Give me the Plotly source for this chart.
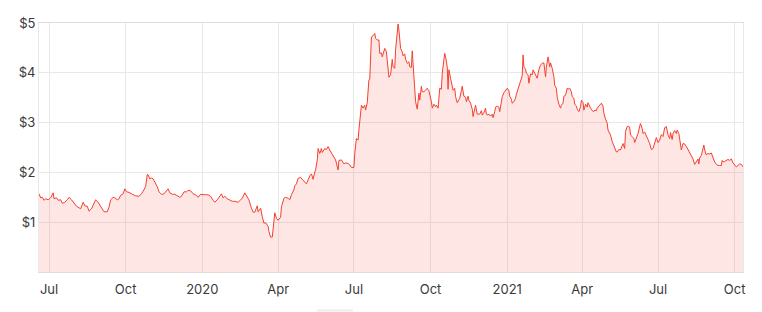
import plotly.graph_objects as go

dates = [
    "2019-06-19","2019-06-21","2019-06-23","2019-06-25","2019-06-27","2019-06-30","2019-07-03","2019-07-06","2019-07-07","2019-07-10",
    "2019-07-12","2019-07-15","2019-07-17","2019-07-20","2019-07-23","2019-07-25","2019-07-28","2019-07-31","2019-08-03","2019-08-06",
    "2019-08-08","2019-08-11","2019-08-13","2019-08-16","2019-08-18","2019-08-21","2019-08-24","2019-08-26","2019-08-29","2019-09-01",
    "2019-09-03","2019-09-05","2019-09-09","2019-09-11","2019-09-13","2019-09-16","2019-09-18","2019-09-21","2019-09-23","2019-09-25",
    "2019-09-28","2019-09-30","2019-10-02","2019-10-05","2019-10-09","2019-10-13",
    "2019-10-17","2019-10-20","2019-10-23","2019-10-25","2019-10-27","2019-10-28","2019-10-30","2019-11-01","2019-11-03","2019-11-05",
    "2019-11-08","2019-11-10","2019-11-13","2019-11-16","2019-11-18","2019-11-21","2019-11-23","2019-11-26","2019-11-29","2019-12-02",
    "2019-12-05","2019-12-07","2019-12-10","2019-12-13","2019-12-15","2019-12-18","2019-12-21","2019-12-24","2019-12-27","2019-12-30",
    "2020-01-02","2020-01-05","2020-01-08","2020-01-11","2020-01-14","2020-01-16","2020-01-19","2020-01-21","2020-01-24","2020-01-26",
    "2020-01-28","2020-01-31","2020-02-03","2020-02-06","2020-02-09","2020-02-13",
    "2020-02-16","2020-02-18","2020-02-21","2020-02-24","2020-02-26","2020-02-29","2020-03-02","2020-03-04","2020-03-07","2020-03-08",
    "2020-03-11","2020-03-13","2020-03-15","2020-03-17","2020-03-20","2020-03-21","2020-03-23","2020-03-25","2020-03-28","2020-03-30",
    "2020-04-01","2020-04-04","2020-04-05","2020-04-08","2020-04-10","2020-04-13","2020-04-15","2020-04-17","2020-04-20","2020-04-21",
    "2020-04-23","2020-04-25","2020-04-28","2020-04-30","2020-05-03","2020-05-05","2020-05-07","2020-05-09","2020-05-11","2020-05-13",
    "2020-05-15","2020-05-16","2020-05-18","2020-05-19","2020-05-21","2020-05-23","2020-05-24","2020-05-27","2020-05-29","2020-05-31",
    "2020-06-02","2020-06-04","2020-06-07","2020-06-09","2020-06-12","2020-06-13",
    "2020-06-16","2020-06-19","2020-06-21","2020-06-24","2020-06-26","2020-06-28","2020-07-01","2020-07-02","2020-07-04","2020-07-06",
    "2020-07-07","2020-07-09","2020-07-10","2020-07-12","2020-07-14","2020-07-15","2020-07-17","2020-07-19","2020-07-20","2020-07-22",
    "2020-07-23","2020-07-25","2020-07-26","2020-07-27","2020-07-29","2020-07-31","2020-08-01","2020-08-03","2020-08-04","2020-08-06",
    "2020-08-07","2020-08-09","2020-08-11","2020-08-12","2020-08-14","2020-08-16","2020-08-17","2020-08-19","2020-08-20","2020-08-22",
    "2020-08-23","2020-08-24","2020-08-26","2020-08-28","2020-08-29","2020-08-31","2020-09-01","2020-09-03","2020-09-05","2020-09-06",
    "2020-09-08","2020-09-09","2020-09-10","2020-09-12","2020-09-13","2020-09-15","2020-09-17","2020-09-18","2020-09-20","2020-09-21",
    "2020-09-23","2020-09-25","2020-09-27","2020-09-29","2020-09-30","2020-10-02","2020-10-03","2020-10-05","2020-10-07","2020-10-08",
    "2020-10-10",
    "2020-10-12","2020-10-14","2020-10-15","2020-10-17","2020-10-18","2020-10-19","2020-10-21","2020-10-22","2020-10-23","2020-10-25",
    "2020-10-27","2020-10-28","2020-10-30","2020-10-31","2020-11-02","2020-11-04","2020-11-05","2020-11-07","2020-11-08","2020-11-10",
    "2020-11-12","2020-11-13","2020-11-15","2020-11-16","2020-11-18","2020-11-20","2020-11-21","2020-11-23","2020-11-24","2020-11-26",
    "2020-11-28","2020-11-29","2020-12-01","2020-12-02","2020-12-04","2020-12-06","2020-12-07","2020-12-09","2020-12-10","2020-12-12",
    "2020-12-14","2020-12-15","2020-12-17","2020-12-18","2020-12-20","2020-12-22","2020-12-23","2020-12-25","2020-12-26","2020-12-28",
    "2020-12-30","2021-01-01","2021-01-03","2021-01-04","2021-01-06","2021-01-07","2021-01-09","2021-01-11","2021-01-12","2021-01-14",
    "2021-01-15","2021-01-17","2021-01-19","2021-01-20","2021-01-21","2021-01-23","2021-01-24","2021-01-26","2021-01-27","2021-01-29",
    "2021-01-31","2021-02-01","2021-02-03",
    "2021-02-06","2021-02-08","2021-02-10","2021-02-12","2021-02-14","2021-02-16","2021-02-17","2021-02-19","2021-02-21","2021-02-22",
    "2021-02-24","2021-02-26","2021-02-27","2021-03-01","2021-03-02","2021-03-04","2021-03-06","2021-03-07","2021-03-09","2021-03-10",
    "2021-03-12","2021-03-14","2021-03-15","2021-03-17","2021-03-19","2021-03-20","2021-03-22","2021-03-23","2021-03-25","2021-03-26",
    "2021-03-28","2021-03-30","2021-03-31","2021-04-02","2021-04-03","2021-04-05","2021-04-07","2021-04-08","2021-04-10","2021-04-11",
    "2021-04-13","2021-04-15","2021-04-16","2021-04-18","2021-04-19","2021-04-21","2021-04-23","2021-04-24","2021-04-26","2021-04-27",
    "2021-04-29","2021-05-01","2021-05-02","2021-05-04","2021-05-05","2021-05-07","2021-05-09","2021-05-10","2021-05-12","2021-05-13",
    "2021-05-15","2021-05-17","2021-05-18","2021-05-20","2021-05-22","2021-05-23","2021-05-25","2021-05-26","2021-05-28","2021-05-29",
    "2021-05-31","2021-06-02","2021-06-03",
    "2021-06-05","2021-06-07","2021-06-09","2021-06-10","2021-06-12","2021-06-13","2021-06-15","2021-06-17","2021-06-19","2021-06-21",
    "2021-06-23","2021-06-25","2021-06-27","2021-06-29","2021-07-01","2021-07-03","2021-07-05","2021-07-07","2021-07-09","2021-07-11",
    "2021-07-13","2021-07-15","2021-07-16","2021-07-18","2021-07-19","2021-07-21","2021-07-23","2021-07-24","2021-07-26","2021-07-27",
    "2021-07-29","2021-07-31","2021-08-02","2021-08-04","2021-08-06","2021-08-08","2021-08-10","2021-08-12","2021-08-14","2021-08-16",
    "2021-08-18","2021-08-19","2021-08-20","2021-08-22","2021-08-24","2021-08-25","2021-08-26","2021-08-28","2021-08-30","2021-09-01",
    "2021-09-03","2021-09-05","2021-09-07","2021-09-09","2021-09-11","2021-09-13","2021-09-15","2021-09-16","2021-09-17","2021-09-19",
    "2021-09-21","2021-09-23","2021-09-25","2021-09-27","2021-09-29","2021-10-01","2021-10-03","2021-10-05","2021-10-07","2021-10-09",
    "2021-10-11",
]

prices = [
    1.57,1.49,1.50,1.44,1.47,1.45,1.49,1.59,1.47,1.49,
    1.44,1.45,1.38,1.40,1.45,1.50,1.45,1.38,1.32,1.29,
    1.27,1.40,1.33,1.32,1.22,1.27,1.36,1.45,1.40,1.32,
    1.24,1.21,1.21,1.30,1.45,1.50,1.49,1.45,1.47,1.54,
    1.57,1.67,1.61,1.60,1.56,1.53,
    1.52,1.57,1.65,1.72,1.96,1.95,1.87,1.89,1.87,1.81,
    1.71,1.61,1.56,1.57,1.61,1.67,1.59,1.56,1.56,1.53,
    1.50,1.52,1.61,1.61,1.64,1.63,1.57,1.55,1.50,1.56,
    1.55,1.55,1.55,1.52,1.44,1.40,1.45,1.49,1.57,1.49,
    1.52,1.47,1.45,1.42,1.42,1.40,
    1.45,1.48,1.59,1.51,1.45,1.28,1.20,1.20,1.33,1.21,
    1.28,1.11,0.98,0.99,0.92,0.81,0.70,0.70,1.19,1.08,
    1.04,1.10,1.31,1.48,1.50,1.48,1.45,1.55,1.65,1.73,
    1.77,1.88,1.90,1.86,1.81,1.77,1.85,1.93,1.97,1.86,
    2.01,2.05,2.25,2.48,2.38,2.48,2.40,2.48,2.46,2.52,
    2.45,2.40,2.32,2.25,2.05,2.24,
    2.25,2.17,2.19,2.18,2.15,2.10,2.10,2.38,2.68,2.65,
    2.85,3.12,3.35,3.29,3.35,3.25,3.40,3.86,3.87,4.72,
    4.73,4.76,4.79,4.69,4.66,4.66,4.39,4.40,4.32,4.47,
    4.49,4.42,3.96,3.91,3.96,4.27,4.12,4.09,4.46,4.79,
    4.98,4.86,4.49,4.42,4.34,4.38,4.27,4.19,4.22,4.12,
    4.11,4.44,4.19,3.69,3.42,3.27,3.59,3.45,3.73,3.62,
    3.62,3.65,3.69,3.64,3.57,3.42,3.29,3.37,3.32,3.35,
    3.29,
    3.69,3.67,3.99,4.26,4.39,4.32,4.12,3.67,4.06,3.89,
    3.69,3.65,3.69,3.52,3.40,3.45,3.49,3.64,3.73,3.53,
    3.51,3.42,3.53,3.45,3.39,3.27,3.12,3.27,3.35,3.17,
    3.17,3.17,3.24,3.15,3.20,3.29,3.17,3.15,3.17,3.13,
    3.17,3.10,3.22,3.31,3.33,3.31,3.22,3.45,3.52,3.60,
    3.64,3.69,3.64,3.53,3.47,3.39,3.42,3.49,3.57,3.69,
    3.72,3.82,3.94,4.36,4.12,4.07,3.99,3.96,3.79,3.98,
    3.96,4.06,3.99,
    3.89,4.06,4.16,4.19,4.20,3.92,4.12,4.32,4.12,4.20,
    4.09,3.92,3.75,3.69,3.51,3.37,3.29,3.35,3.39,3.53,
    3.55,3.69,3.67,3.69,3.62,3.52,3.49,3.37,3.33,3.27,
    3.22,3.32,3.45,3.40,3.25,3.37,3.31,3.40,3.31,3.29,
    3.24,3.22,3.25,3.24,3.29,3.33,3.37,3.39,3.33,3.19,
    3.07,2.99,2.85,2.79,2.75,2.62,2.55,2.50,2.41,2.41,
    2.46,2.45,2.51,2.58,2.48,2.82,2.92,2.93,2.91,2.75,
    2.72,2.68,2.60,
    2.70,2.78,2.93,2.98,2.88,2.78,2.81,2.75,2.66,2.58,
    2.46,2.48,2.60,2.70,2.60,2.65,2.76,2.72,2.90,2.92,
    2.75,2.68,2.80,2.66,2.78,2.84,2.78,2.85,2.78,2.68,
    2.45,2.58,2.57,2.52,2.46,2.42,2.33,2.27,2.16,2.21,
    2.27,2.17,2.29,2.34,2.45,2.55,2.45,2.35,2.38,2.37,
    2.39,2.29,2.21,2.16,2.14,2.14,2.14,2.24,2.21,2.22,
    2.25,2.26,2.24,2.27,2.19,2.14,2.11,2.14,2.17,2.16,
    2.11,
]

x_tick_dates = ["2019-07-01","2019-10-01","2020-01-01","2020-04-01","2020-07-01",
                "2020-10-01","2021-01-01","2021-04-01","2021-07-01","2021-10-01"]
x_tick_labels = ["Jul","Oct","2020","Apr","Jul","Oct","2021","Apr","Jul","Oct"]
y_tick_values = [1, 2, 3, 4, 5]
y_tick_labels = ["$1", "$2", "$3", "$4", "$5"]

LINE = "#f5402f"
FILL = "rgba(245,64,47,0.13)"
GRID = "#e8e8e8"
TEXT = "#3a3a3a"

fig = go.Figure()
fig.add_trace(go.Scatter(
    x=dates, y=prices, mode="lines",
    line=dict(color=LINE, width=1),
    fill="tozeroy", fillcolor=FILL,
    hoverinfo="x+y", showlegend=False,
))

fig.update_layout(
    width=762, height=312,
    margin=dict(l=39, r=19, t=23, b=40),
    paper_bgcolor="white", plot_bgcolor="white",
    font=dict(family="Inter, 'Open Sans', sans-serif", size=13, color=TEXT),
    showlegend=False,
    shapes=[dict(type="rect", xref="paper", yref="paper",
                 x0=(317 - 39) / 704, x1=(353 - 39) / 704, y0=-0.16, y1=-0.15,
                 fillcolor="#f0f0f0", line=dict(width=0), layer="above")],
)
fig.update_xaxes(
    range=[dates[0], dates[-1]],
    tickvals=x_tick_dates, ticktext=x_tick_labels,
    showgrid=True, gridcolor=GRID, gridwidth=1,
    showline=True, linecolor="#e3dcdc", linewidth=1, mirror=True,
    ticks="", ticklen=0, zeroline=False, ticklabelstandoff=5,
    tickfont=dict(size=13, color=TEXT),
)
fig.update_yaxes(
    range=[0, 5],
    tickvals=y_tick_values, ticktext=y_tick_labels,
    showgrid=True, gridcolor=GRID, gridwidth=1,
    showline=True, linecolor="#e8e8e8", linewidth=1, mirror=True,
    ticks="", zeroline=False,
    tickfont=dict(size=13, color=TEXT),
)

fig.write_html("out.html")
